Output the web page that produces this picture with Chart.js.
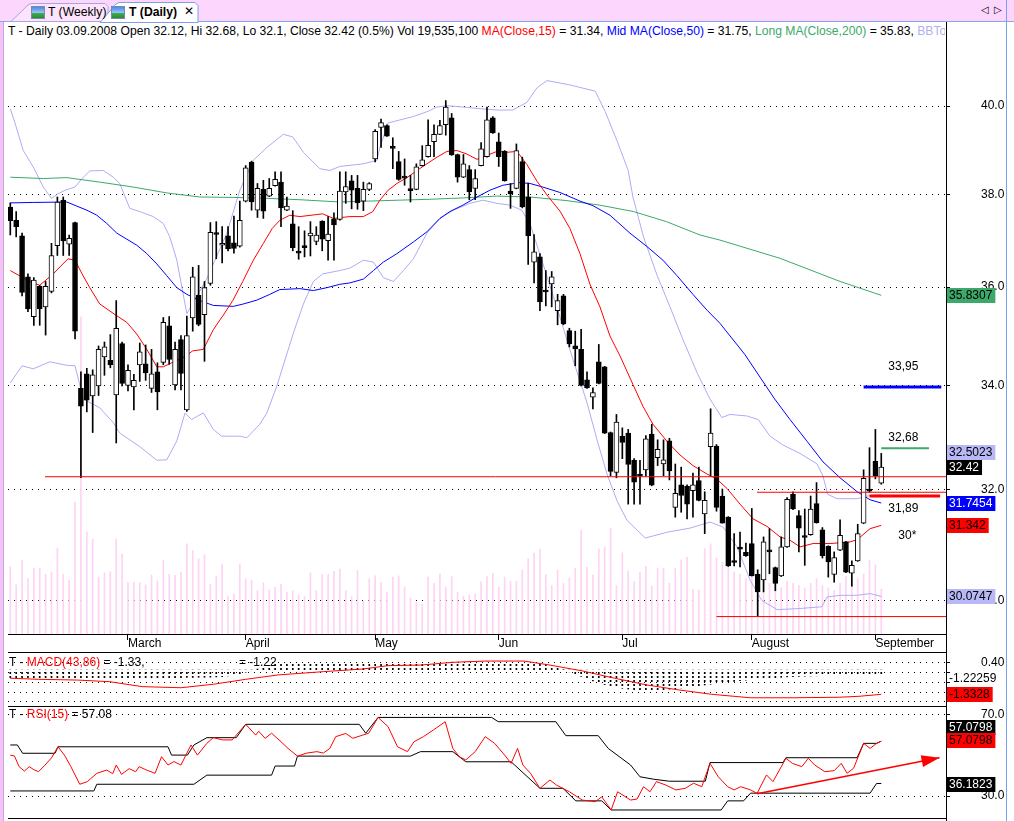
<!DOCTYPE html>
<html>
<head>
<meta charset="utf-8">
<title>T (Daily)</title>
<script src="https://cdn.jsdelivr.net/npm/chart.js@4.4.0/dist/chart.umd.min.js"></script>
<style>
  body { margin: 0; width: 1014px; height: 821px; overflow: hidden; background: #fff; position: relative;
         font: 12px 'Liberation Sans', Arial, sans-serif; color: #000; }
  .abs { position: absolute; }
  .hline { position: absolute; height: 1px; background: #000; }
  .icon { position: absolute; width: 12px; height: 11px; border: 1px solid #7a8aa8;
          background: linear-gradient(#4a8ae8 0, #9cc8f8 55%, #3fae4a 56%, #2c8a36 100%); }
  .txt { position: absolute; white-space: nowrap; line-height: 14px; }
</style>
</head>
<body>
<!-- tab bar -->
<div class="abs" style="left:0;top:0;width:1014px;height:22px;background:#fdd6fd"></div>
<div class="abs" style="left:0;top:21px;width:1014px;height:1px;background:#88a6ee"></div>
<svg class="abs" style="left:0;top:0" width="210" height="23">
  <polygon points="11,21.5 28,5 31,3.5 105,3.5 108,6.5 108,21.5" fill="#fde4fc" stroke="#a3a8e2"/>
  <polygon points="100,22.5 116,4 119,2.5 195,2.5 198,5.5 198,22.5" fill="#fff" stroke="#7d9fe6"/>
</svg>
<div class="icon" style="left:31px;top:6px"></div>
<div class="txt" style="left:48px;top:5px;font-size:12.2px">T (Weekly)</div>
<div class="icon" style="left:111px;top:6px"></div>
<div class="txt" style="left:129px;top:5px;font-weight:bold;font-size:12.2px">T (Daily)</div>
<div class="txt" style="left:184px;top:4px;font-weight:bold;font-family:'DejaVu Sans'">✕</div>
<div class="txt" style="left:981px;top:3px;font-size:10px;font-family:'DejaVu Sans'">◁</div>
<div class="txt" style="left:994px;top:3px;font-size:10px;font-family:'DejaVu Sans'">▷</div>

<!-- window edges -->
<div class="abs" style="left:0;top:22px;width:3px;height:799px;background:#f4c4f4"></div>
<div class="abs" style="left:3px;top:22px;width:1px;height:799px;background:#c8a8e8"></div>
<div class="abs" style="left:1006px;top:0;width:1px;height:821px;background:#7aa0f0"></div>

<!-- header -->
<div class="txt" style="left:8px;top:24px;width:937px;overflow:hidden;font-size:12.15px">T - Daily 03.09.2008 Open 32.12, Hi 32.68, Lo 32.1, Close 32.42 (0.5%) Vol 19,535,100 <span style="color:#ff0000">MA(Close,15)</span> = 31.34, <span style="color:#0000ff">Mid MA(Close,50)</span> = 31.75, <span style="color:#3ca86a">Long MA(Close,200)</span> = 35.83, <span style="color:#b0b0f0">BBTop(Close,15,2) = 32.50</span></div>

<canvas id="price" class="abs" style="left:0;top:40px" width="1014" height="612"></canvas>
<canvas id="macd" class="abs" style="left:0;top:652px" width="1014" height="55"></canvas>
<canvas id="rsi" class="abs" style="left:0;top:707px" width="1014" height="111"></canvas>

<!-- panel frames -->
<div class="hline" style="left:8px;top:634px;width:938px"></div>
<div class="hline" style="left:8px;top:652px;width:938px"></div>
<div class="hline" style="left:8px;top:706px;width:938px"></div>
<div class="hline" style="left:8px;top:818px;width:938px"></div>
<div class="abs" style="left:946px;top:22px;width:1px;height:799px;background:#000"></div>

<div class="txt" style="left:9px;top:655px">T - <span style="color:#ff0000">MACD(43,86)</span> = -1.33,</div>
<div class="txt" style="left:239px;top:655px">= -1.22</div>
<div class="txt" style="left:9px;top:707px">T - <span style="color:#ff0000">RSI(15)</span> = 57.08</div>

<script>
// daily bars 01.02.2008 - 03.09.2008 (index 0 = first bar)
const opens = [37.72,37.43,37.09,36.22,35.39,36.02,35.59,35.91,36.88,37.87,
  36.91,37.38,33.94,34.23,33.79,33.99,34.57,34.50,33.81,34.84,
  34.00,33.97,34.41,34.43,33.94,34.27,34.46,35.20,34.01,34.92,
  33.52,35.36,35.83,35.43,36.08,37.16,36.89,37.09,36.94,36.87,
  37.85,38.72,37.65,38.11,37.96,38.19,38.27,37.65,37.35,36.75,
  36.88,37.09,36.97,37.41,36.99,37.46,37.45,38.05,38.30,38.13,
  37.85,38.11,38.79,39.51,39.55,39.05,38.73,38.40,38.11,38.11,
  38.64,38.84,39.18,39.35,39.57,39.73,38.89,38.38,38.55,38.13,
  38.64,38.84,39.73,39.18,38.96,38.07,38.13,38.73,37.94,36.53,
  36.64,35.92,36.07,35.51,35.82,35.10,34.79,34.72,34.11,33.77,
  34.47,34.37,33.08,32.32,33.01,33.07,32.55,32.27,32.37,33.05,
  32.60,32.48,32.92,31.67,32.09,32.06,31.98,32.17,31.55,32.81,
  32.82,31.88,31.49,30.70,30.93,30.85,31.01,30.46,30.36,30.89,
  30.58,30.43,30.95,31.91,31.52,31.14,31.17,31.74,31.26,30.96,
  30.46,30.89,31.04,30.48,30.70,31.38,31.98,32.53,32.12];
const highs = [37.81,37.62,37.15,36.28,36.20,36.04,36.12,36.93,37.94,37.94,
  37.11,37.39,34.27,34.34,34.31,34.79,34.87,35.02,35.72,34.87,
  34.41,34.22,34.85,34.81,34.72,34.45,35.37,35.39,34.87,35.00,
  35.40,36.42,36.46,36.12,37.38,37.40,37.29,37.29,37.52,37.85,
  38.64,38.74,38.24,38.31,38.35,38.50,38.50,37.94,37.64,37.29,
  37.20,37.40,37.29,37.42,37.51,37.59,38.50,38.50,38.42,38.42,
  38.27,38.26,39.46,39.70,39.57,39.27,38.96,38.79,38.42,38.68,
  39.09,39.68,39.57,39.67,40.13,39.83,38.90,38.89,38.64,38.55,
  39.16,39.98,39.76,39.38,38.98,38.24,39.13,38.83,38.25,37.12,
  36.71,36.35,36.33,35.85,35.85,35.15,35.09,35.13,34.27,33.95,
  34.82,34.38,33.09,33.43,33.17,33.14,32.58,32.55,33.02,33.24,
  32.94,32.94,32.97,32.48,32.42,32.09,32.31,32.42,31.96,33.54,
  32.85,32.01,31.50,31.19,31.22,31.02,31.65,30.54,31.13,31.28,
  30.59,31.13,31.85,31.96,31.61,31.64,31.88,32.13,31.30,30.97,
  30.86,31.44,31.05,30.70,31.36,32.37,32.79,33.14,32.68];
const lows = [37.11,37.07,35.82,35.49,35.21,35.21,35.01,35.88,36.67,36.67,
  36.67,34.93,32.22,33.48,33.08,33.80,34.20,34.35,32.88,33.99,
  33.89,33.52,34.08,34.10,33.86,33.52,34.41,34.42,33.91,33.91,
  33.49,35.09,35.20,34.48,36.04,36.60,36.51,36.77,36.72,36.85,
  37.83,37.65,37.49,37.47,37.95,38.18,37.29,37.64,36.77,36.59,
  36.64,36.66,36.90,36.77,36.57,36.57,37.43,37.80,37.68,37.67,
  37.64,38.08,38.72,39.05,39.30,38.57,38.31,38.20,37.83,38.10,
  38.63,38.83,38.84,39.34,39.33,38.87,38.27,38.37,37.88,37.88,
  38.63,38.83,39.37,38.62,38.29,37.69,38.12,37.70,36.48,36.09,
  35.51,35.61,35.59,35.22,35.22,34.77,34.39,33.99,33.94,33.54,
  34.03,33.06,32.26,32.22,32.58,31.73,31.73,31.73,32.25,32.07,
  32.45,32.26,32.18,31.49,31.58,31.46,31.49,31.79,31.19,32.25,
  31.60,31.38,30.60,30.61,30.59,30.78,30.43,29.73,30.15,30.47,
  30.17,30.42,30.94,31.63,30.86,30.62,31.16,31.38,30.75,30.41,
  30.32,30.88,30.49,30.25,30.69,31.37,31.95,32.20,32.10];
const closes = [37.42,37.29,35.89,35.55,36.15,35.55,36.02,36.67,37.83,36.98,
  37.04,35.09,33.59,33.71,34.21,34.72,34.77,34.41,35.15,34.04,
  34.30,34.10,34.67,34.25,34.23,33.87,35.27,34.52,34.72,34.24,
  35.00,36.22,35.23,35.99,37.17,37.12,36.93,36.81,36.82,37.43,
  38.59,37.83,38.13,37.63,38.13,38.33,37.70,37.74,36.84,36.72,
  36.84,37.15,37.11,37.02,37.13,37.33,38.07,38.17,38.09,37.81,
  38.11,38.24,39.42,39.62,39.31,39.03,38.33,38.36,38.08,38.61,
  38.77,39.10,39.35,39.55,39.98,38.88,38.38,38.68,38.05,38.35,
  39.02,39.68,39.38,38.84,38.30,38.01,38.98,37.72,37.09,36.75,
  35.69,35.90,36.22,35.72,35.24,34.83,34.73,34.00,33.95,33.86,
  34.04,33.07,32.34,33.28,32.89,32.47,32.14,32.25,32.96,32.08,
  32.76,32.56,32.35,31.93,31.89,31.73,32.09,31.80,31.80,33.07,
  31.67,31.38,30.61,30.67,30.91,30.79,30.43,30.15,31.04,30.86,
  30.30,30.95,31.82,31.64,31.29,31.12,31.64,31.39,30.79,30.68,
  30.76,31.16,30.50,30.62,31.19,32.21,31.97,32.26,32.42];
// volume, millions of shares
const volumes = [29.2,21.3,32.1,24.0,28.6,28.6,25.9,26.9,37.3,26.0,
  23.4,57.3,137.6,44.3,41.2,24.7,26.5,27.0,41.2,34.7,
  22.4,22.4,22.3,21.3,25.6,23.0,32.1,25.9,25.5,26.9,
  39.1,36.2,32.7,34.4,21.6,25.2,30.4,16.2,17.4,30.4,
  23.9,23.4,18.8,22.3,19.2,20.3,21.7,18.2,18.7,16.9,
  16.2,26.5,18.8,25.9,25.9,27.2,28.2,18.8,16.2,27.6,
  14.3,24.0,25.2,22.3,18.2,24.7,25.2,20.4,15.6,13.9,
  13.0,24.7,22.0,26.0,20.4,24.9,18.2,16.5,16.9,17.4,
  22.6,24.9,26.3,20.3,24.7,22.9,22.9,27.9,32.6,35.2,
  36.8,25.7,21.0,27.8,22.0,24.3,28.4,45.1,28.9,25.6,
  36.9,37.8,46.0,21.0,35.2,27.3,22.7,26.8,29.4,20.8,
  28.6,28.6,22.1,28.6,32.1,33.3,19.4,19.1,37.0,39.1,
  33,31,35,27,26,24,25,28,26,22,
  21,20,23,22,21,20,22,24,21,20,
  19,22,25,22,24,26,32,30,19.5];

// indicator lines as [bar index, value]
const ma15 = [[0,36.35],[3.3,36.12],[5,36.04],[7.3,36.28],[9.8,36.60],[11,36.57],[12.2,36.28],[13.5,35.99],[15.2,35.65],[17.8,35.43],[19.8,35.27],[21.5,35.03],[23.2,34.72],[24.9,34.37],[26,34.37],[27.6,34.46],[29.3,34.55],[31,34.69],[32.8,34.72],[34.5,35.12],[36.2,35.42],[37.8,35.72],[39.5,36.12],[41.3,36.57],[43,36.93],[44.5,37.25],[45.8,37.43],[47.5,37.54],[49.2,37.51],[53.1,37.57],[54.9,37.47],[57.7,37.51],[60,37.51],[61.6,37.62],[62.8,37.87],[64.2,38.09],[65.7,38.24],[67.4,38.37],[69.1,38.53],[70.8,38.68],[72.5,38.83],[74.2,38.96],[75.9,38.98],[77.6,38.90],[79.3,38.78],[81,38.87],[82.7,38.96],[84.4,38.94],[86.1,38.96],[87.8,38.66],[89.5,38.29],[91.4,37.95],[93.4,37.63],[95.1,37.25],[96.8,36.71],[98.5,36.06],[100.2,35.59],[101.9,34.99],[103.6,34.59],[105.8,34.02],[107.5,33.59],[109.2,33.24],[111.6,32.91],[113.8,32.65],[116,32.45],[118.4,32.29],[120,32.2],[121.8,32.02],[124,31.73],[126.2,31.46],[128.6,31.32],[130.8,31.13],[132.5,31.07],[134.2,30.95],[136.4,31.01],[139.3,31.01],[142.7,31.04],[143.9,31.08],[146.1,31.28],[148,31.34]];
const ma50 = [[0,37.81],[3.9,37.82],[9.6,37.83],[11.3,37.74],[13,37.65],[14.7,37.54],[16.4,37.36],[18.1,37.15],[19.8,37.02],[21.5,36.89],[23.2,36.71],[24.9,36.49],[26.6,36.24],[28.3,35.99],[30,35.85],[32.2,35.72],[34.5,35.62],[37.9,35.60],[39.6,35.65],[41.9,35.73],[44.1,35.85],[45.8,35.95],[49.2,35.97],[51.5,35.93],[53.8,35.99],[56,36.06],[57.7,36.09],[60,36.17],[61.7,36.35],[63.4,36.53],[65.7,36.71],[68.5,36.96],[70.8,37.18],[73,37.47],[74.7,37.62],[76.9,37.76],[79.3,37.94],[81.5,38.09],[83.7,38.20],[86.6,38.26],[88.3,38.24],[90.5,38.16],[93.4,38.04],[96.8,37.85],[99,37.75],[101.9,37.54],[105.3,37.15],[108.2,36.86],[110.9,36.57],[113.3,36.24],[116,35.85],[118.4,35.52],[120.6,35.25],[124.8,34.62],[129.9,33.73],[132.5,33.33],[135.4,32.91],[138.1,32.52],[141,32.22],[143.9,31.96],[146.1,31.81],[148,31.75]];
const ma200 = [[0,38.38],[5.6,38.35],[9.6,38.37],[15.2,38.27],[20.9,38.16],[26.6,38.03],[32.2,37.94],[37.9,37.93],[43.6,37.91],[49.2,37.88],[56,37.83],[66,37.87],[71.3,37.89],[77,37.92],[82.6,37.96],[88.3,37.94],[94.6,37.86],[100.2,37.76],[105.9,37.62],[111.5,37.40],[117.2,37.11],[120.6,37.0],[130.8,36.61],[141,36.12],[148,35.83]];
const bbTop = [[0,39.94],[0.8,39.61],[2.2,38.98],[3.9,38.61],[5.6,38.16],[7.0,37.91],[8.1,38.01],[9.3,38.09],[11,38.16],[12.2,38.35],[13.5,38.52],[15.8,38.53],[17.5,38.38],[18.6,38.24],[20.3,37.69],[22,37.62],[24.3,37.51],[26,37.36],[27.1,37.07],[28.3,36.57],[30,35.45],[33.4,36.18],[36.8,37.15],[39,38.09],[41.3,38.76],[43.6,39.05],[46.4,39.35],[48,39.29],[49.8,38.94],[52.6,38.57],[54.3,38.53],[56,38.62],[60,38.68],[62.3,38.76],[62.8,39.05],[64.2,39.61],[66.2,39.68],[68.5,39.76],[70.8,39.87],[72.5,39.98],[74.2,40.01],[76.9,39.98],[79.8,39.94],[82.7,39.91],[85.4,39.91],[87.8,40.09],[89.5,40.43],[91.2,40.6],[95,40.5],[99.4,40.35],[101.1,39.87],[103.1,39.20],[105,38.53],[105.8,37.94],[107.6,37.07],[109.9,36.25],[112.1,35.59],[114.3,34.92],[116.7,34.25],[118.9,33.73],[120.9,33.37],[122.3,33.43],[125.2,33.40],[127.1,33.33],[129.1,33.01],[131.3,32.84],[134.2,32.68],[137.1,32.48],[138.1,32.25],[138.9,31.91],[140.5,31.83],[143.9,31.83],[145.6,31.88],[148,31.91]];
const bbBot = [[0,34.05],[2,34.39],[3.9,34.33],[6.7,34.47],[9.6,34.40],[11,34.39],[12.4,33.73],[15.2,33.56],[17.5,33.27],[18.6,33.07],[22,32.81],[24.9,32.55],[26.6,32.56],[28.3,32.92],[29.7,33.46],[30.8,33.33],[32.8,33.46],[34.5,33.14],[35.9,33.01],[39,33.01],[40.2,32.98],[41.3,33.11],[42.4,33.24],[43.6,33.46],[45.3,33.99],[48.1,35.05],[49.8,35.65],[51.5,36.12],[53.1,36.28],[56,36.35],[57.7,36.40],[60,36.57],[61.7,36.53],[63.4,36.20],[65.1,36.12],[66.8,36.35],[68.5,36.60],[70.8,37.15],[73,37.47],[75.3,37.65],[78.1,37.80],[80.3,37.87],[82.7,37.80],[84.9,37.76],[86.9,37.65],[88.3,37.36],[90.5,36.50],[93.4,35.38],[95.6,34.52],[98,33.66],[99.7,32.94],[101.4,32.29],[103.1,31.79],[104.8,31.43],[107.9,31.11],[111.8,31.22],[115.5,31.29],[118.9,31.40],[121.1,31.31],[123.5,30.95],[125.7,30.36],[127.7,30.0],[130.3,29.84],[134.2,29.86],[137.9,29.89],[138.8,30.06],[141,30.09],[143.9,30.09],[146.1,30.12],[148,30.07]];

// hand drawn levels: [from bar, to bar, price]
const levels = [[5.9,159,32.24],[126.9,159,31.95],[146,158,31.88],[145,158.2,33.97],[148,156.1,32.78],[120,159,29.72]];
const levelColors = ['#ff0000','#ff0000','#ff0000','#0000ff','#3ca86a','#ff0000'];
const levelWidths = [1,1,3,3,2,1];
const noteText = ['33,95','32,68','31,89','30*'];
const noteBar = [149.2,149.2,149.2,150.9];
const notePrice = [34.38,32.99,31.65,31.16];

const priceTicks = [30,32,34,36,38,40];
const monthNames = ['March','April','May','Jun','Jul','August','September'];
const monthIdx = [20,40,62,83,104,126,147];
const lastValues = [35.8307,32.5023,32.42,31.7454,31.342,30.0747];

// MACD panel
const macdLine = [[0,-0.45],[4.8,-0.51],[11.4,-0.55],[16.9,-0.64],[22.4,-0.91],[29,-0.97],[34.5,-0.78],[40,-0.51],[45.5,-0.27],[53.2,-0.09],[59.8,0.05],[64.2,0.24],[69.7,0.27],[75.2,0.42],[80.7,0.49],[87.3,0.49],[91.7,0.27],[97.2,-0.05],[102.7,-0.45],[108.2,-0.82],[113.6,-1.09],[119.2,-1.33],[125.8,-1.52],[133,-1.52],[140.8,-1.49],[144.2,-1.44],[148,-1.33]];
const macdHist = [-0.42,-0.43,-0.44,-0.44,-0.45,-0.45,-0.44,-0.44,-0.45,-0.45,
  -0.45,-0.46,-0.46,-0.45,-0.45,-0.44,-0.44,-0.44,-0.45,-0.45,
  -0.45,-0.45,-0.44,-0.44,-0.44,-0.43,-0.43,-0.42,-0.42,-0.42,
  -0.41,-0.41,-0.40,-0.40,-0.39,-0.38,-0.36,-0.33,-0.28,-0.20,
  -0.12,-0.05,0.05,0.15,0.25,0.32,0.36,0.38,0.38,0.38,
  0.38,0.38,0.38,0.38,0.38,0.38,0.38,0.38,0.38,0.38,
  0.38,0.38,0.39,0.40,0.40,0.40,0.40,0.40,0.40,0.40,
  0.40,0.41,0.42,0.42,0.42,0.43,0.43,0.43,0.43,0.43,
  0.43,0.43,0.43,0.43,0.43,0.42,0.42,0.41,0.40,0.38,
  0.35,0.30,0.22,0.12,0.02,-0.10,-0.22,-0.35,-0.48,-0.60,
  -0.70,-0.80,-0.88,-0.95,-1.00,-1.04,-1.08,-1.10,-1.12,-1.12,
  -1.10,-1.08,-1.05,-1.02,-0.98,-0.94,-0.90,-0.86,-0.82,-0.78,
  -0.74,-0.70,-0.66,-0.62,-0.58,-0.55,-0.52,-0.49,-0.46,-0.44,
  -0.42,-0.40,-0.38,-0.36,-0.35,-0.34,-0.33,-0.32,-0.31,-0.30,
  -0.30,-0.29,-0.29,-0.28,-0.28,-0.27,-0.27,-0.27,-0.27];
const macdTicks = [0.40,-0.15,-0.70,-1.25,-1.70];

// RSI panel
const rsi = [[0,50.2],[0.7,49.8],[1.5,44.5],[2.4,42.3],[3.2,44.5],[4.0,43.0],[4.8,42.0],[5.9,45.3],[7.0,48.8],[8.1,54.3],[9.2,50.2],[10.3,44.5],[11.8,35.8],[13.1,37.1],[14.7,41.2],[16.4,42.8],[17.4,41.0],[18.0,45.3],[18.9,40.7],[20.2,43.5],[21.3,42.0],[21.9,44.5],[23.0,43.0],[24.6,41.2],[25.7,49.4],[26.8,45.3],[27.8,47.0],[29.0,45.3],[30.7,55.2],[31.8,50.2],[33.4,56.0],[34.5,58.8],[36.1,57.7],[37.7,57.7],[40.0,65.4],[41.7,60.1],[42.2,62.0],[43.3,58.5],[44.4,61.0],[46.0,56.8],[47.2,53.5],[48.8,49.7],[50.4,51.2],[52.1,51.9],[53.2,51.2],[54.3,53.5],[55.3,59.3],[57.0,60.9],[58.2,58.5],[59.8,60.0],[60.9,61.0],[62.5,68.8],[64.2,64.2],[65.8,54.3],[67.5,51.9],[68.6,56.8],[70.2,59.3],[71.9,62.6],[73.9,66.7],[75.2,53.5],[76.3,49.4],[77.4,47.8],[79.0,51.9],[80.7,59.3],[82.3,56.0],[84.0,50.2],[85.1,46.1],[86.2,53.5],[87.1,45.3],[88.4,41.2],[90.0,33.8],[91.7,37.9],[92.8,35.4],[95.0,32.1],[97.2,28.0],[99.4,27.2],[100.5,29.6],[102.1,23.1],[103.2,32.1],[105.4,28.0],[106.5,28.5],[107.6,34.6],[108.7,32.1],[109.8,37.1],[111.4,35.4],[113.1,33.0],[114.7,33.8],[116.1,36.3],[117.5,34.6],[118.9,46.1],[120.3,39.5],[121.9,34.6],[123.0,33.0],[124.1,34.6],[125.8,33.0],[126.9,31.3],[128.5,40.4],[129.6,37.1],[131.8,48.6],[132.9,46.1],[134.5,44.5],[135.6,48.6],[136.7,45.3],[138.4,42.0],[140.0,42.5],[141.2,46.1],[142.2,41.2],[143.3,43.7],[145.0,56.0],[146.1,53.5],[147.2,56.0],[148,57.08]];
const rsiHigh = [[0,55.2],[1.2,55.2],[2.1,51.1],[7.6,51.1],[8.1,54.3],[26.8,54.3],[27.4,50.2],[30.1,50.2],[31.2,55.2],[33.4,58.8],[38.4,58.8],[40,65.4],[59.3,65.4],[60.4,61.0],[62.5,68.8],[81.8,68.8],[82.9,66.7],[92.7,66.7],[94.4,59.8],[99.9,59.8],[101.6,53.5],[105.4,45.3],[107,39.5],[109.3,38.3],[112,37.3],[118.1,37.3],[118.9,46.5],[131.3,46.5],[131.8,48.9],[143.9,48.9],[145,56.0],[147.2,56.0],[148,57.08]];
const rsiLow = [[0,32.5],[14.2,32.5],[14.7,35.8],[31.2,35.8],[33.4,40.3],[44.4,40.3],[45,44.8],[48.3,44.8],[48.8,49.7],[68,49.7],[69.7,51.9],[75.2,51.9],[77.4,46.9],[85.1,46.9],[90,33.8],[93.9,33.8],[96.1,27.6],[100.5,27.6],[102.1,23.1],[120.8,23.1],[121.9,27.6],[124.6,27.6],[125.8,31.4],[146.1,31.4],[147.2,36.18],[148,36.18]];
const rsiArrow = [[126.9,31.1],[157.9,48.9]];
const rsiTicks = [30,70];

// ---------------------------------------------------------------
Chart.defaults.font.family = "'Liberation Sans', Arial, sans-serif";
Chart.defaults.font.size = 12;
Chart.defaults.color = '#000';

const X_MIN = -0.39, X_MAX = 159.0;
const pts = arr => arr.map(([x, y]) => ({ x, y }));
const bars = opens.map((_, i) => i);

function xAxis(show) {
  return {
    type: 'linear', min: X_MIN, max: X_MAX, offset: false, display: show,
    grid: { display: show, drawOnChartArea: false, drawTicks: true, tickLength: 6, color: '#000', offset: false },
    border: { display: false },
    ticks: { align: 'start', padding: -4, maxRotation: 0, autoSkip: false,
             callback: v => monthNames[monthIdx.indexOf(v)] || '' },
    afterBuildTicks: s => { s.ticks = monthIdx.map(v => ({ value: v })); },
    afterFit: s => { s.height = show ? 18 : 0; s.paddingLeft = 0; s.paddingRight = 0; }
  };
}

function yAxis(type, min, max, tickVals, fmt) {
  return {
    type, position: 'right', min, max,
    grid: { color: '#000', drawTicks: true, tickLength: 4, tickColor: '#000' },
    border: { display: false, dash: [1, 5] },
    ticks: { padding: 31, crossAlign: 'near', autoSkip: false, callback: fmt },
    afterBuildTicks: s => { s.ticks = tickVals.map(v => ({ value: v })); },
    afterFit: s => { s.width = 58; s.paddingTop = 0; s.paddingBottom = 0; }
  };
}

const line = (data, color, order, width) => ({
  type: 'line', data: pts(data), borderColor: color, borderWidth: width || 1,
  pointRadius: 0, tension: 0, fill: false, order
});

// boxes with last values on the right axis
const valueTags = {
  id: 'valueTags',
  afterDraw(chart, args, opts) {
    const { ctx, chartArea } = chart;
    const y = chart.scales.y;
    ctx.save();
    ctx.font = "12px 'Liberation Sans', Arial, sans-serif";
    ctx.textBaseline = 'middle';
    ctx.textAlign = 'left';
    opts.items.forEach(t => {
      const py = Math.round(y.getPixelForValue(t.value) + (t.dy || 0));
      const w = ctx.measureText(t.text).width + 5;
      if (t.bg) {
        ctx.fillStyle = t.bg;
        ctx.fillRect(chartArea.right + 1, py - 7, w, 15);
      }
      ctx.fillStyle = t.fg;
      ctx.fillText(t.text, chartArea.right + 3, py + 1);
    });
    ctx.restore();
  }
};

// free text in the plot
const notes = {
  id: 'notes',
  afterDatasetsDraw(chart, args, opts) {
    const { ctx } = chart;
    ctx.save();
    ctx.font = "12px 'Liberation Sans', Arial, sans-serif";
    ctx.fillStyle = '#000';
    ctx.textBaseline = 'middle';
    opts.text.forEach((t, i) => {
      ctx.fillText(t, chart.scales.x.getPixelForValue(opts.x[i]), chart.scales.y.getPixelForValue(opts.y[i]));
    });
    ctx.restore();
  }
};

const arrowHead = {
  id: 'arrowHead',
  afterDatasetsDraw(chart) {
    const sx = chart.scales.x, sy = chart.scales.y;
    const [a, b] = rsiArrow;
    const x1 = sx.getPixelForValue(a[0]), y1 = sy.getPixelForValue(a[1]);
    const x2 = sx.getPixelForValue(b[0]), y2 = sy.getPixelForValue(b[1]);
    const ang = Math.atan2(y2 - y1, x2 - x1), L = 18, W = 6;
    const c = Math.cos(ang), s = Math.sin(ang);
    const ctx = chart.ctx;
    ctx.save();
    ctx.fillStyle = '#ff0000';
    ctx.beginPath();
    ctx.moveTo(x2, y2);
    ctx.lineTo(x2 - L * c + W * s, y2 - L * s - W * c);
    ctx.lineTo(x2 - L * c - W * s, y2 - L * s + W * c);
    ctx.closePath();
    ctx.fill();
    ctx.restore();
  }
};

const common = {
  responsive: false, animation: false, events: [],
  layout: { padding: { left: 8, right: 10, top: 0, bottom: 0 } }
};

// ---- price panel ----
const levelSets = levels.map((l, i) => ({
  type: 'line', data: [{ x: l[0], y: l[2] }, { x: l[1], y: l[2] }],
  borderColor: levelColors[i], borderWidth: levelWidths[i], pointRadius: 0, order: 0
}));

new Chart(document.getElementById('price'), {
  type: 'bar',
  data: {
    datasets: [
      { type: 'bar', data: bars.map(i => ({ x: i, y: volumes[i] })), yAxisID: 'yv',
        backgroundColor: '#ffd3f3', barThickness: 1, grouped: false, order: 10 },
      line(bbTop, '#acacf4', 8),
      line(bbBot, '#acacf4', 8),
      line(ma200, '#3ca86a', 7),
      line(ma50, '#0000ff', 6),
      line(ma15, '#ff0000', 5),
      { type: 'bar', data: bars.map(i => ({ x: i, y: [lows[i], highs[i]] })),
        backgroundColor: '#000', barThickness: 1, grouped: false, order: 2 },
      { type: 'bar', data: bars.map(i => ({ x: i, y: [opens[i], closes[i]] })),
        backgroundColor: c => (closes[c.dataIndex] < opens[c.dataIndex] ? '#000' : '#fff'),
        borderColor: '#000', borderWidth: 1, borderSkipped: false, barThickness: 5,
        minBarLength: 2, grouped: false, order: 1 },
      ...levelSets
    ]
  },
  options: {
    ...common,
    plugins: {
      legend: { display: false }, tooltip: { enabled: false },
      valueTags: { items: [
        { value: lastValues[0], text: String(lastValues[0]), bg: '#3ca86a', fg: '#000' },
        { value: lastValues[1], text: String(lastValues[1]), bg: '#b8b8f6', fg: '#000', dy: -11 },
        { value: lastValues[2], text: String(lastValues[2]), bg: '#000', fg: '#fff' },
        { value: lastValues[3], text: String(lastValues[3]), bg: '#0000ff', fg: '#fff' },
        { value: lastValues[4], text: String(lastValues[4]), bg: '#ff0000', fg: '#000' },
        { value: lastValues[5], text: String(lastValues[5]), bg: '#b8b8f6', fg: '#000' }
      ] },
      notes: { text: noteText, x: noteBar, y: notePrice }
    },
    scales: {
      x: xAxis(true),
      y: yAxis('logarithmic', 29.42, 41.57, priceTicks, v => Number(v).toFixed(1)),
      yv: { type: 'linear', display: false, min: 0, max: 257.8 }
    }
  },
  plugins: [valueTags, notes]
});

// ---- MACD panel ----
const pc = document.createElement('canvas');
pc.width = 1; pc.height = 4;
const pctx = pc.getContext('2d');
pctx.fillStyle = '#000';
pctx.fillRect(0, 0, 1, 2);
const dashPattern = pctx.createPattern(pc, 'repeat');

new Chart(document.getElementById('macd'), {
  type: 'bar',
  data: {
    datasets: [
      { type: 'bar', data: bars.map(i => ({ x: i, y: macdHist[i] })), backgroundColor: dashPattern,
        barThickness: 1, grouped: false, order: 3 },
      line(macdLine, '#ff0000', 1)
    ]
  },
  options: {
    ...common,
    plugins: {
      legend: { display: false }, tooltip: { enabled: false },
      valueTags: { items: [
        { value: -0.44, text: '-1.22259', fg: '#000' },
        { value: macdLine[macdLine.length - 1][1], text: '-1.3328', bg: '#ff0000', fg: '#000' }
      ] }
    },
    scales: {
      x: xAxis(false),
      y: yAxis('linear', -2.024, 0.985, macdTicks, v => (v === 0.4 ? '0.40' : ''))
    }
  },
  plugins: [valueTags]
});

// ---- RSI panel ----
new Chart(document.getElementById('rsi'), {
  type: 'line',
  data: {
    datasets: [
      line(rsiHigh, '#000', 3),
      line(rsiLow, '#000', 3),
      line(rsi, '#ff0000', 2),
      line(rsiArrow, '#ff0000', 1, 1.5)
    ]
  },
  options: {
    ...common,
    plugins: {
      legend: { display: false }, tooltip: { enabled: false },
      valueTags: { items: [
        { value: 57.0798, text: '57.0798', bg: '#000', fg: '#fff', dy: -14 },
        { value: 57.0798, text: '57.0798', bg: '#ff0000', fg: '#000', dy: -1 },
        { value: 36.1823, text: '36.1823', bg: '#000', fg: '#fff', dy: 1 }
      ] }
    },
    scales: {
      x: xAxis(false),
      y: yAxis('linear', 19.14, 73.95, rsiTicks, v => Number(v).toFixed(1))
    }
  },
  plugins: [valueTags, arrowHead]
});
</script>
</body>
</html>
